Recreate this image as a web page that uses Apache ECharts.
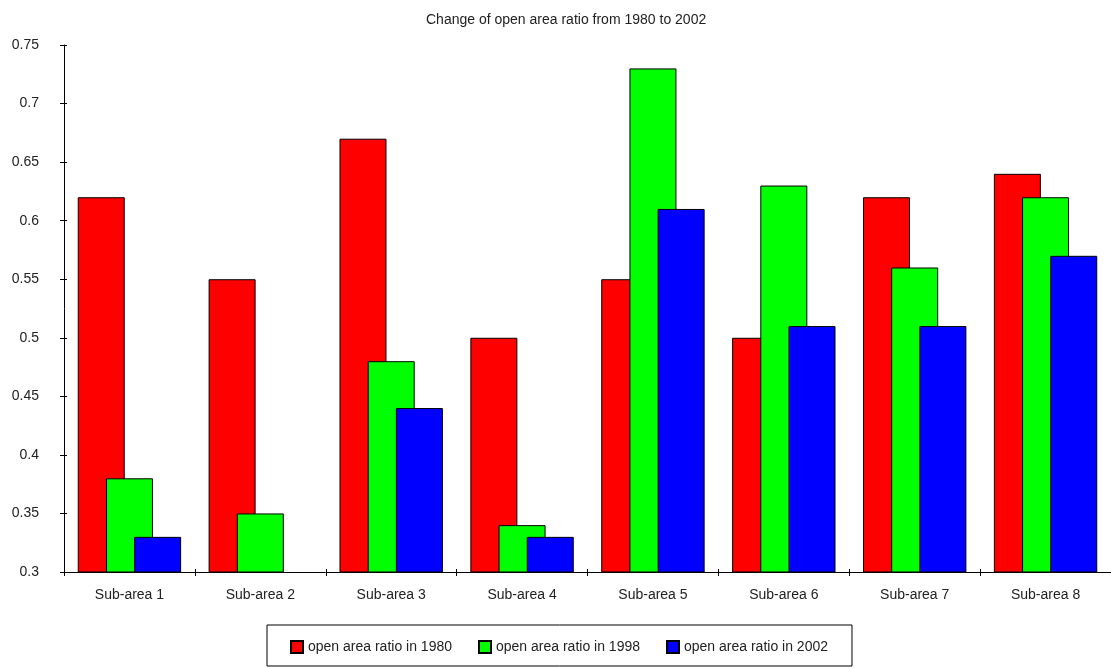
<!DOCTYPE html>
<html>
<head>
<meta charset="utf-8">
<script src="https://cdn.jsdelivr.net/npm/echarts@6/dist/echarts.min.js"></script>
<style>
  html, body { margin: 0; padding: 0; background: #fff; }
  #chart { width: 1111px; height: 668px; }
</style>
</head>
<body>
<div id="chart"></div>
<script>
// Open area ratio per sub-area
const categories = ['Sub-area 1', 'Sub-area 2', 'Sub-area 3', 'Sub-area 4',
                    'Sub-area 5', 'Sub-area 6', 'Sub-area 7', 'Sub-area 8'];
const ratio1980 = [0.62, 0.55, 0.67, 0.50, 0.55, 0.50, 0.62, 0.64];
const ratio1998 = [0.38, 0.35, 0.48, 0.34, 0.73, 0.63, 0.56, 0.62];
const ratio2002 = [0.33, null, 0.44, 0.33, 0.61, 0.51, 0.51, 0.57];
const seriesNames = ['open area ratio in 1980', 'open area ratio in 1998', 'open area ratio in 2002'];
const titleText = 'Change of open area ratio from 1980 to 2002';

const FONT = 'Liberation Sans, Arial, sans-serif';
const TEXT = '#222';

const chart = echarts.init(document.getElementById('chart'), null, { renderer: 'canvas' });

const barStyle = (color) => ({ color: color, borderColor: '#000', borderWidth: 1 });

chart.setOption({
  backgroundColor: '#fff',
  animation: false,
  title: {
    text: titleText,
    left: 421,
    top: 8,
    textStyle: { fontFamily: FONT, fontSize: 14, fontWeight: 'normal', color: TEXT }
  },
  legend: {
    left: 267,
    top: 625,
    orient: 'horizontal',
    icon: 'rect',
    itemWidth: 12,
    itemHeight: 12,
    itemGap: 26,
    padding: [15, 24, 12, 23],
    borderColor: '#000',
    borderWidth: 1,
    textStyle: { fontFamily: FONT, fontSize: 14, color: TEXT },
    data: seriesNames
  },
  grid: { left: 64, top: 45, width: 1049, height: 527, containLabel: false },
  xAxis: [
    {
      type: 'category',
      data: categories,
      axisLine: { lineStyle: { color: '#000', width: 1 } },
      axisTick: { show: true, length: 4, lineStyle: { color: '#000' } },
      axisLabel: { fontFamily: FONT, fontSize: 14, color: TEXT, margin: 16 },
      splitLine: { show: false }
    },
    {
      // inward half of the crossing category ticks
      type: 'category',
      position: 'bottom',
      data: categories,
      axisLine: { show: false },
      axisTick: { show: true, inside: true, length: 3, lineStyle: { color: '#000' } },
      axisLabel: { show: false },
      splitLine: { show: false }
    }
  ],
  yAxis: [
    {
      type: 'value',
      min: 0.3,
      max: 0.75,
      interval: 0.05,
      axisLine: { show: true, lineStyle: { color: '#000', width: 1 } },
      axisTick: { show: true, length: 4, lineStyle: { color: '#000' } },
      axisLabel: { fontFamily: FONT, fontSize: 14, color: TEXT, margin: 25 },
      splitLine: { show: false }
    },
    {
      // inward half of the crossing value ticks
      type: 'value',
      position: 'left',
      min: 0.3,
      max: 0.75,
      interval: 0.05,
      axisLine: { show: false },
      axisTick: { show: true, inside: true, length: 3, lineStyle: { color: '#000' } },
      axisLabel: { show: false },
      splitLine: { show: false }
    }
  ],
  series: [
    { name: seriesNames[0], type: 'bar', data: ratio1980, barWidth: 47, barGap: '-40%', itemStyle: barStyle('#ff0000') },
    { name: seriesNames[1], type: 'bar', data: ratio1998, barWidth: 47, barGap: '-40%', itemStyle: barStyle('#00ff00') },
    { name: seriesNames[2], type: 'bar', data: ratio2002, barWidth: 47, barGap: '-40%', itemStyle: barStyle('#0000ff') }
  ]
});
</script>
</body>
</html>
